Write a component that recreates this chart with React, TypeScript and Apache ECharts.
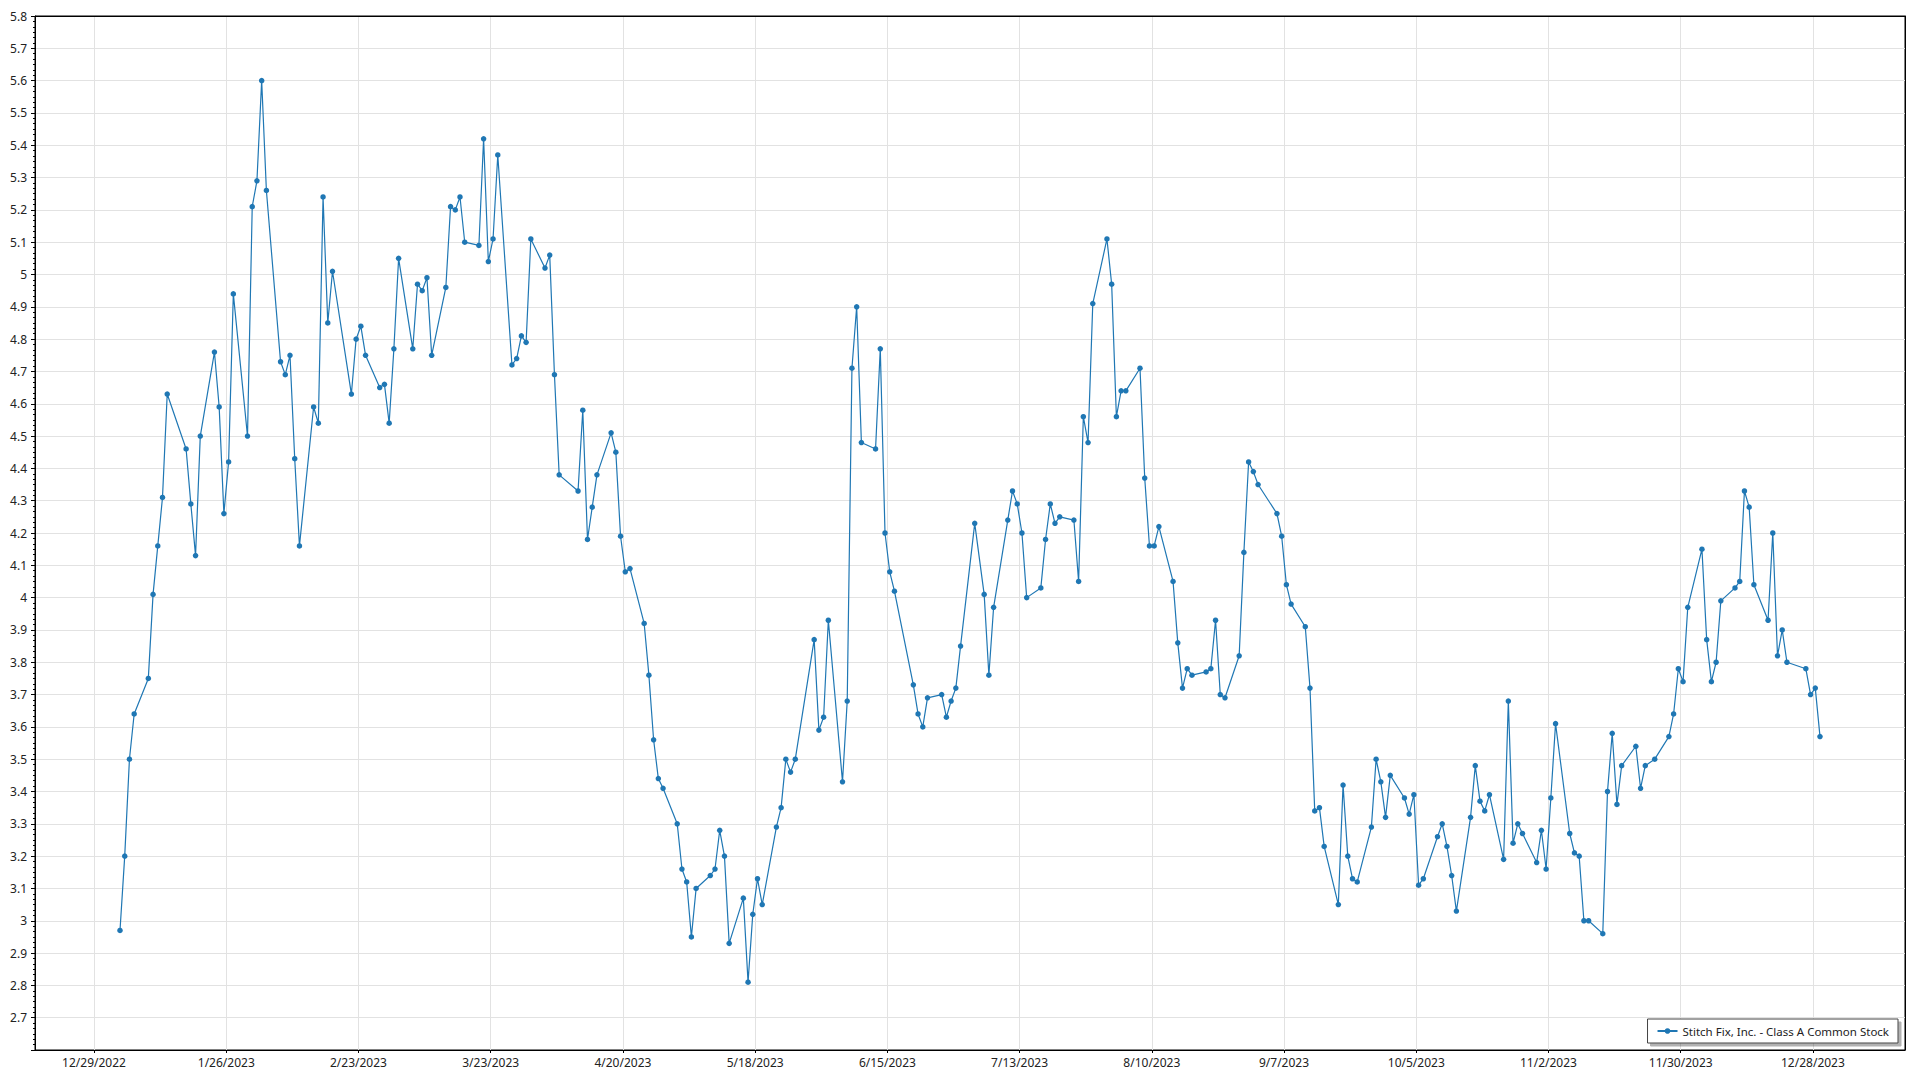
import React, { useEffect, useRef } from "react";
import * as echarts from "echarts";

const seriesName = "Stitch Fix, Inc. - Class A Common Stock";

const tradingDates: string[] = [
  "2023-01-03","2023-01-04","2023-01-05","2023-01-06","2023-01-09","2023-01-10","2023-01-11","2023-01-12","2023-01-13",
  "2023-01-17","2023-01-18","2023-01-19","2023-01-20","2023-01-23","2023-01-24","2023-01-25","2023-01-26","2023-01-27",
  "2023-01-30","2023-01-31","2023-02-01","2023-02-02","2023-02-03","2023-02-06","2023-02-07","2023-02-08","2023-02-09",
  "2023-02-10","2023-02-13","2023-02-14","2023-02-15","2023-02-16","2023-02-17","2023-02-21","2023-02-22","2023-02-23",
  "2023-02-24","2023-02-27","2023-02-28","2023-03-01","2023-03-02","2023-03-03","2023-03-06","2023-03-07","2023-03-08",
  "2023-03-09","2023-03-10","2023-03-13","2023-03-14","2023-03-15","2023-03-16","2023-03-17","2023-03-20","2023-03-21",
  "2023-03-22","2023-03-23","2023-03-24","2023-03-27","2023-03-28","2023-03-29","2023-03-30","2023-03-31","2023-04-03",
  "2023-04-04","2023-04-05","2023-04-06","2023-04-10","2023-04-11","2023-04-12","2023-04-13","2023-04-14","2023-04-17",
  "2023-04-18","2023-04-19","2023-04-20","2023-04-21","2023-04-24","2023-04-25","2023-04-26","2023-04-27","2023-04-28",
  "2023-05-01","2023-05-02","2023-05-03","2023-05-04","2023-05-05","2023-05-08","2023-05-09","2023-05-10","2023-05-11",
  "2023-05-12","2023-05-15","2023-05-16","2023-05-17","2023-05-18","2023-05-19","2023-05-22","2023-05-23","2023-05-24",
  "2023-05-25","2023-05-26","2023-05-30","2023-05-31","2023-06-01","2023-06-02","2023-06-05","2023-06-06","2023-06-07",
  "2023-06-08","2023-06-09","2023-06-12","2023-06-13","2023-06-14","2023-06-15","2023-06-16","2023-06-20","2023-06-21",
  "2023-06-22","2023-06-23","2023-06-26","2023-06-27","2023-06-28","2023-06-29","2023-06-30","2023-07-03","2023-07-05",
  "2023-07-06","2023-07-07","2023-07-10","2023-07-11","2023-07-12","2023-07-13","2023-07-14","2023-07-17","2023-07-18",
  "2023-07-19","2023-07-20","2023-07-21","2023-07-24","2023-07-25","2023-07-26","2023-07-27","2023-07-28","2023-07-31",
  "2023-08-01","2023-08-02","2023-08-03","2023-08-04","2023-08-07","2023-08-08","2023-08-09","2023-08-10","2023-08-11",
  "2023-08-14","2023-08-15","2023-08-16","2023-08-17","2023-08-18","2023-08-21","2023-08-22","2023-08-23","2023-08-24",
  "2023-08-25","2023-08-28","2023-08-29","2023-08-30","2023-08-31","2023-09-01","2023-09-05","2023-09-06","2023-09-07",
  "2023-09-08","2023-09-11","2023-09-12","2023-09-13","2023-09-14","2023-09-15","2023-09-18","2023-09-19","2023-09-20",
  "2023-09-21","2023-09-22","2023-09-25","2023-09-26","2023-09-27","2023-09-28","2023-09-29","2023-10-02","2023-10-03",
  "2023-10-04","2023-10-05","2023-10-06","2023-10-09","2023-10-10","2023-10-11","2023-10-12","2023-10-13","2023-10-16",
  "2023-10-17","2023-10-18","2023-10-19","2023-10-20","2023-10-23","2023-10-24","2023-10-25","2023-10-26","2023-10-27",
  "2023-10-30","2023-10-31","2023-11-01","2023-11-02","2023-11-03","2023-11-06","2023-11-07","2023-11-08","2023-11-09",
  "2023-11-10","2023-11-13","2023-11-14","2023-11-15","2023-11-16","2023-11-17","2023-11-20","2023-11-21","2023-11-22",
  "2023-11-24","2023-11-27","2023-11-28","2023-11-29","2023-11-30","2023-12-01","2023-12-04","2023-12-05","2023-12-06",
  "2023-12-07","2023-12-08","2023-12-11","2023-12-12","2023-12-13","2023-12-14","2023-12-15","2023-12-18","2023-12-19",
  "2023-12-20","2023-12-21","2023-12-22","2023-12-26","2023-12-27","2023-12-28","2023-12-29",
];

const closePrices: number[] = [
  2.97, 3.20, 3.50, 3.64, 3.75, 4.01, 4.16, 4.31, 4.63,
  4.46, 4.29, 4.13, 4.50, 4.76, 4.59, 4.26, 4.42, 4.94,
  4.50, 5.21, 5.29, 5.60, 5.26, 4.73, 4.69, 4.75, 4.43,
  4.16, 4.59, 4.54, 5.24, 4.85, 5.01, 4.63, 4.80, 4.84,
  4.75, 4.65, 4.66, 4.54, 4.77, 5.05, 4.77, 4.97, 4.95,
  4.99, 4.75, 4.96, 5.21, 5.20, 5.24, 5.10, 5.09, 5.42,
  5.04, 5.11, 5.37, 4.72, 4.74, 4.81, 4.79, 5.11, 5.02,
  5.06, 4.69, 4.38, 4.33, 4.58, 4.18, 4.28, 4.38, 4.51,
  4.45, 4.19, 4.08, 4.09, 3.92, 3.76, 3.56, 3.44, 3.41,
  3.30, 3.16, 3.12, 2.95, 3.10, 3.14, 3.16, 3.28, 3.20,
  2.93, 3.07, 2.81, 3.02, 3.13, 3.05, 3.29, 3.35, 3.50,
  3.46, 3.50, 3.87, 3.59, 3.63, 3.93, 3.43, 3.68, 4.71,
  4.90, 4.48, 4.46, 4.77, 4.20, 4.08, 4.02, 3.73, 3.64,
  3.60, 3.69, 3.70, 3.63, 3.68, 3.72, 3.85, 4.23, 4.01,
  3.76, 3.97, 4.24, 4.33, 4.29, 4.20, 4.00, 4.03, 4.18,
  4.29, 4.23, 4.25, 4.24, 4.05, 4.56, 4.48, 4.91, 5.11,
  4.97, 4.56, 4.64, 4.64, 4.71, 4.37, 4.16, 4.16, 4.22,
  4.05, 3.86, 3.72, 3.78, 3.76, 3.77, 3.78, 3.93, 3.70,
  3.69, 3.82, 4.14, 4.42, 4.39, 4.35, 4.26, 4.19, 4.04,
  3.98, 3.91, 3.72, 3.34, 3.35, 3.23, 3.05, 3.42, 3.20,
  3.13, 3.12, 3.29, 3.50, 3.43, 3.32, 3.45, 3.38, 3.33,
  3.39, 3.11, 3.13, 3.26, 3.30, 3.23, 3.14, 3.03, 3.32,
  3.48, 3.37, 3.34, 3.39, 3.19, 3.68, 3.24, 3.30, 3.27,
  3.18, 3.28, 3.16, 3.38, 3.61, 3.27, 3.21, 3.20, 3.00,
  3.00, 2.96, 3.40, 3.58, 3.36, 3.48, 3.54, 3.41, 3.48,
  3.50, 3.57, 3.64, 3.78, 3.74, 3.97, 4.15, 3.87, 3.74,
  3.80, 3.99, 4.03, 4.05, 4.33, 4.28, 4.04, 3.93, 4.20,
  3.82, 3.90, 3.80, 3.78, 3.70, 3.72, 3.57,
];

const xTickLabels: string[] = [
  "2022-12-29","2023-01-26","2023-02-23","2023-03-23","2023-04-20","2023-05-18","2023-06-15",
  "2023-07-13","2023-08-10","2023-09-07","2023-10-05","2023-11-02","2023-11-30","2023-12-28",
];

const yMin = 2.6;
const yMax = 5.8;
const yStep = 0.1;

const FONT = "'Segoe UI', 'Noto Sans', 'Open Sans', sans-serif";
const LINE_COLOR = "#1f77b4";
const GRID_COLOR = "#e2e2e2";

function fmtDate(v: number): string {
  const d = new Date(v);
  return `${d.getUTCMonth() + 1}/${d.getUTCDate()}/${d.getUTCFullYear()}`;
}

export default function App() {
  const ref = useRef<HTMLDivElement>(null);

  useEffect(() => {
    if (!ref.current) return;
    const chart = echarts.init(ref.current, undefined, { renderer: "svg" });

    const points = tradingDates.map((d, i) => [Date.parse(d + "T12:00:00Z"), closePrices[i]]);
    const first = points[0][0];
    const last = points[points.length - 1][0];
    const pad = (last - first) * 0.05;
    const xMin = first - pad;
    const xMax = last + pad;
    const xTickValues = xTickLabels.map((d) => Date.parse(d + "T00:00:00Z"));

    const borderAxis = {
      show: true,
      axisLine: { show: true, onZero: false, lineStyle: { color: "#000", width: 1 } },
      axisTick: { show: false },
      axisLabel: { show: false },
      splitLine: { show: false },
    };

    chart.setOption({
      animation: false,
      backgroundColor: "#ffffff",
      grid: {
        left: 35,
        right: 15,
        top: 16,
        bottom: 30,
        show: true,
        borderColor: "#000",
        borderWidth: 1,
        backgroundColor: "#fff",
      },
      legend: {
        show: true,
        right: 22,
        bottom: 37,
        backgroundColor: "#fff",
        borderColor: "#444",
        borderWidth: 1,
        padding: [6, 9, 6, 9],
        shadowColor: "rgba(0,0,0,0.3)",
        shadowOffsetX: 3,
        shadowOffsetY: 3,
        shadowBlur: 0,
        itemWidth: 20,
        itemHeight: 7,
        textStyle: { fontSize: 11.5, color: "#222", fontFamily: FONT },
        data: [seriesName],
      },
      xAxis: [
        {
          type: "value",
          min: xMin,
          max: xMax,
          axisLine: { show: true, onZero: false, lineStyle: { color: "#000", width: 1 } },
          axisTick: { show: true, length: 3, customValues: xTickValues, lineStyle: { color: "#000" } },
          axisLabel: {
            customValues: xTickValues,
            formatter: (v: number) => fmtDate(v),
            fontSize: 12,
            color: "#222",
            fontFamily: FONT,
            margin: 6,
          },
          splitLine: { show: true, lineStyle: { color: GRID_COLOR, width: 1 } },
        },
        { type: "value", position: "top", min: xMin, max: xMax, ...borderAxis },
      ],
      yAxis: [
        {
          type: "value",
          min: yMin,
          max: yMax,
          interval: yStep,
          axisLine: { show: true, lineStyle: { color: "#000", width: 1 } },
          axisTick: { show: true, length: 4, lineStyle: { color: "#000" } },
          minorTick: { show: true, splitNumber: 6, length: 2, lineStyle: { color: "#000" } },
          axisLabel: {
            formatter: (v: number) => String(Math.round(v * 10) / 10),
            showMinLabel: false,
            fontSize: 12,
            color: "#222",
            fontFamily: FONT,
            margin: 8,
          },
          splitLine: { show: true, lineStyle: { color: GRID_COLOR, width: 1 } },
        },
        { type: "value", position: "right", min: yMin, max: yMax, ...borderAxis },
      ],
      series: [
        {
          type: "line",
          name: seriesName,
          xAxisIndex: 0,
          yAxisIndex: 0,
          data: points,
          symbol: "circle",
          symbolSize: 5.5,
          showSymbol: true,
          lineStyle: { width: 1.2, color: LINE_COLOR },
          itemStyle: { color: LINE_COLOR },
          emphasis: { disabled: true },
        },
      ],
    });

    return () => chart.dispose();
  }, []);

  return (
    <div
      ref={ref}
      style={{ position: "fixed", left: 0, top: 0, width: 1920, height: 1080, background: "#fff" }}
    />
  );
}
